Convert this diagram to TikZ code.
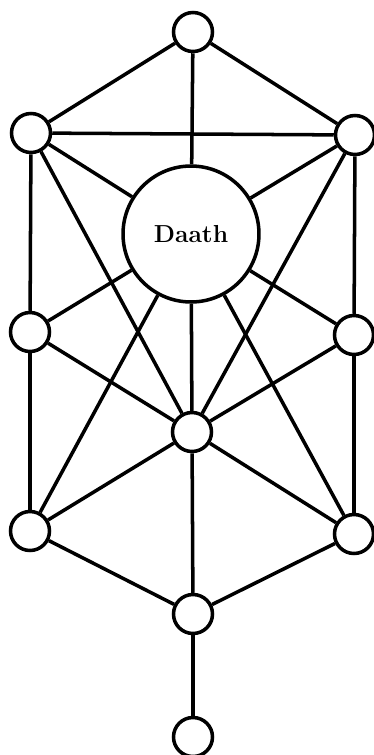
\documentclass[tikz,border=0pt]{standalone}
\begin{document}
\begin{tikzpicture}[x=0.02cm, y=-0.02cm, line width=2pt,
    sephira/.style={draw, circle, minimum size=0.78cm, inner sep=0pt},
    hidden/.style={draw, circle, minimum size=2.72cm, inner sep=0pt,
      font=\fontsize{14}{16}\selectfont\bfseries}]
  \clip (0,0) rectangle (374,755);

  \node[sephira] (keter)     at (193,32)  {};
  \node[sephira] (binah)     at (31,133)  {};
  \node[sephira] (chokmah)   at (355,135) {};
  \node[hidden]  (daath)     at (191,234) {Daath};
  \node[sephira] (geburah)   at (30,332)  {};
  \node[sephira] (chesed)    at (354,335) {};
  \node[sephira] (tiphareth) at (192,432) {};
  \node[sephira] (hod)       at (30,531)  {};
  \node[sephira] (netzach)   at (354,534) {};
  \node[sephira] (yesod)     at (193,614) {};
  \node[sephira] (malkuth)   at (193,737) {};

  % paths
  \foreach \a/\b in {keter/binah, keter/chokmah, keter/daath, binah/chokmah,
      binah/daath, chokmah/daath, binah/geburah, chokmah/chesed,
      binah/tiphareth, chokmah/tiphareth, geburah/daath, chesed/daath,
      daath/tiphareth, daath/hod, daath/netzach, geburah/tiphareth,
      chesed/tiphareth, geburah/hod, chesed/netzach, tiphareth/hod,
      tiphareth/netzach, tiphareth/yesod, hod/yesod, netzach/yesod,
      yesod/malkuth}
    \draw (\a) -- (\b);
\end{tikzpicture}
\end{document}
